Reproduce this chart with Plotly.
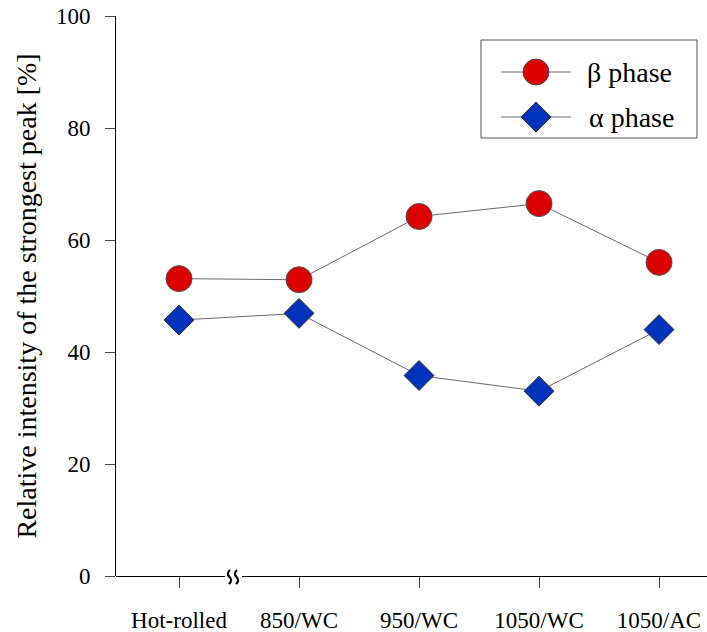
import plotly.graph_objects as go

categories = ["Hot-rolled", "850/WC", "950/WC", "1050/WC", "1050/AC"]
beta_phase = [53.1, 52.9, 64.2, 66.5, 56.0]
alpha_phase = [45.7, 46.9, 35.8, 33.0, 44.0]
y_ticks = [0, 20, 40, 60, 80, 100]

xpos = list(range(len(categories)))
serif = "Liberation Serif, Times New Roman, serif"

# plot-area geometry (pixels) used only for decorations
L, R, T, B = 116, 705, 16, 576


def px(x):
    return (x - L) / (R - L)


def py(y):
    return (B - y) / (B - T)


fig = go.Figure()
fig.add_trace(go.Scatter(
    x=xpos, y=beta_phase, mode="lines+markers", name="β phase",
    line=dict(color="#6a6a6a", width=1),
    marker=dict(symbol="circle", size=26, color="#dd0000", line=dict(color="#555555", width=1)),
    showlegend=False))
fig.add_trace(go.Scatter(
    x=xpos, y=alpha_phase, mode="lines+markers", name="α phase",
    line=dict(color="#6a6a6a", width=1),
    marker=dict(symbol="diamond", size=23, color="#0033bb", line=dict(color="#333333", width=1)),
    showlegend=False))

# custom legend on a pixel-based overlay axis
for yy, sym, col, lc, sz in [(72, "circle", "#dd0000", "#555555", 26), (117, "diamond", "#0033bb", "#333333", 23)]:
    fig.add_trace(go.Scatter(
        x=[501, 536, 571], y=[yy, yy, yy], xaxis="x2", yaxis="y2", mode="lines",
        line=dict(color="#6a6a6a", width=1), showlegend=False, hoverinfo="skip"))
    fig.add_trace(go.Scatter(
        x=[536], y=[yy], xaxis="x2", yaxis="y2", mode="markers",
        marker=dict(symbol=sym, size=sz, color=col, line=dict(color=lc, width=1)),
        showlegend=False, hoverinfo="skip"))


def squiggle(x0):
    pts = [(x0 + 1, 570), (x0 - 3, 573.5), (x0 + 0.5, 577), (x0 + 4, 580.5), (x0, 584)]
    p = [(px(a), py(b)) for a, b in pts]
    return (f"M {p[0][0]:.5f} {p[0][1]:.5f} Q {p[1][0]:.5f} {p[1][1]:.5f} {p[2][0]:.5f} {p[2][1]:.5f} "
            f"Q {p[3][0]:.5f} {p[3][1]:.5f} {p[4][0]:.5f} {p[4][1]:.5f}")


shapes = [
    dict(type="rect", xref="paper", yref="paper", x0=px(481), x1=px(697), y0=py(40), y1=py(138),
         line=dict(color="#555555", width=1), fillcolor="rgba(0,0,0,0)", layer="above"),
    # x axis line with break
    dict(type="line", xref="paper", yref="paper", x0=px(116), x1=px(225), y0=py(576.5), y1=py(576.5),
         line=dict(color="black", width=1), layer="above"),
    dict(type="line", xref="paper", yref="paper", x0=px(242), x1=px(707), y0=py(576.5), y1=py(576.5),
         line=dict(color="black", width=1), layer="above"),
    dict(type="path", xref="paper", yref="paper", path=squiggle(229),
         line=dict(color="black", width=2.2), layer="above"),
    dict(type="path", xref="paper", yref="paper", path=squiggle(236),
         line=dict(color="black", width=2.2), layer="above"),
]

annotations = [
    dict(x=585, y=72, xref="x2", yref="y2", text="β phase", showarrow=False,
         xanchor="left", yanchor="middle", font=dict(family=serif, size=28, color="black")),
    dict(x=587, y=117, xref="x2", yref="y2", text="α phase", showarrow=False,
         xanchor="left", yanchor="middle", font=dict(family=serif, size=28, color="black")),
]

fig.update_layout(
    width=707, height=632,
    margin=dict(l=L, r=707 - R, t=T, b=632 - B, autoexpand=False),
    paper_bgcolor="white", plot_bgcolor="white",
    font=dict(family=serif, color="black"),
    xaxis=dict(range=[-0.525, 4.383], tickvals=xpos, ticktext=categories,
               showgrid=False, zeroline=False, showline=False, automargin=False,
               ticks="outside", ticklen=11, tickcolor="#444", tickwidth=1,
               ticklabelstandoff=12,
               tickfont=dict(family=serif, size=23, color="black")),
    yaxis=dict(range=[0, 100], tickvals=y_ticks, showgrid=False, zeroline=False,
               showline=True, linecolor="black", linewidth=1, automargin=False,
               ticks="outside", ticklen=10, tickcolor="#444", tickwidth=1,
               ticklabelstandoff=10,
               tickfont=dict(family=serif, size=23, color="black"),
               title=dict(text="Relative intensity of the strongest peak [%]",
                          font=dict(family=serif, size=28, color="black"), standoff=11)),
    xaxis2=dict(overlaying="x", range=[L, R], visible=False, fixedrange=True),
    yaxis2=dict(overlaying="y", range=[B, T], visible=False, fixedrange=True),
    shapes=shapes, annotations=annotations,
)

fig.write_html("out.html")
